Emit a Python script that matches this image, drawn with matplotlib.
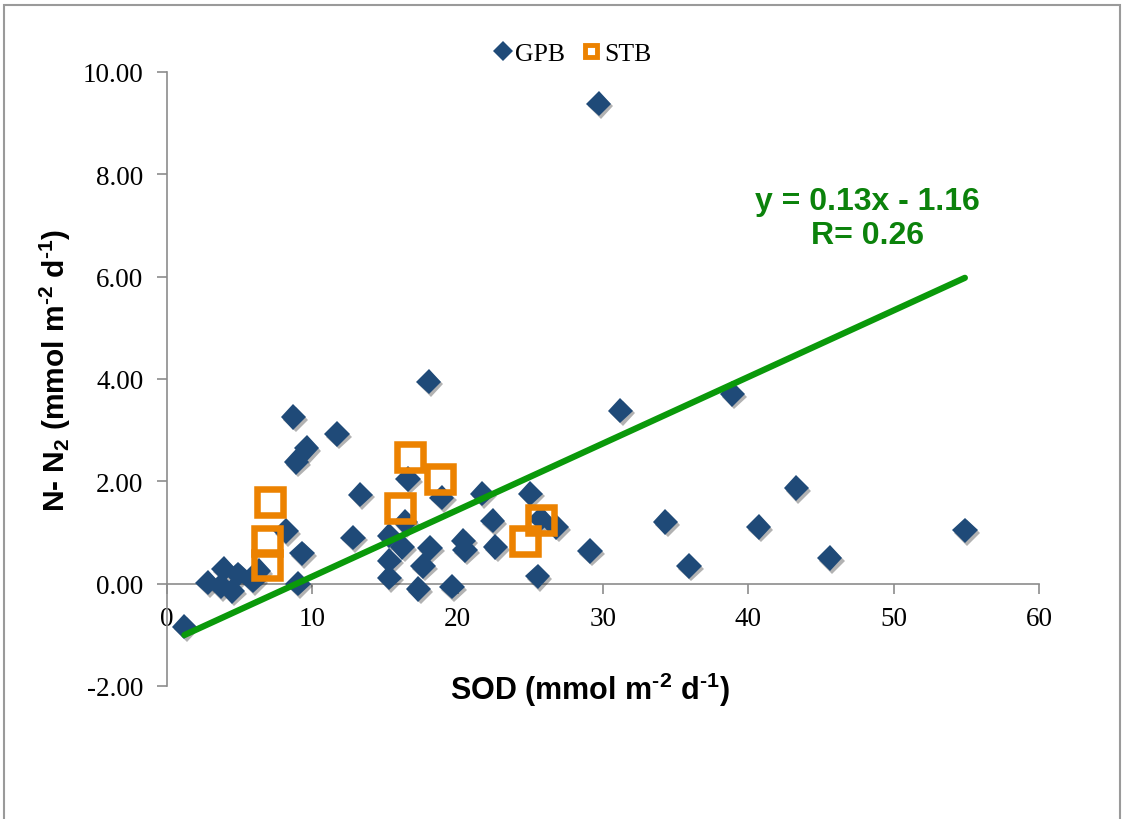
import matplotlib
matplotlib.use("Agg")
import matplotlib.pyplot as plt
import matplotlib.patheffects as pe
from matplotlib.lines import Line2D
from matplotlib.patches import Rectangle
import numpy as np

# GPB (diamonds)
gpb_x = [1.2, 2.8, 3.9, 3.7, 4.5, 4.9, 5.9, 6.3, 8.2, 8.7, 8.9, 9.6, 9.3, 9.0,
         11.7, 12.8, 13.3, 15.3, 15.3, 15.3, 16.4, 16.6, 16.2, 17.6, 18.1, 17.3,
         18.0, 18.9, 19.6, 20.4, 20.5, 21.7, 22.4, 22.6, 25.0, 25.7, 26.8, 25.5,
         29.1, 29.7, 31.2, 34.3, 35.9, 38.9, 40.7, 43.3, 45.6, 54.9]
gpb_y = [-0.84, 0.02, 0.29, -0.05, -0.14, 0.18, 0.06, 0.25, 1.03, 3.26, 2.38, 2.65, 0.59, 0.0,
         2.93, 0.90, 1.74, 0.94, 0.45, 0.12, 1.20, 2.05, 0.72, 0.35, 0.70, -0.10,
         3.95, 1.68, -0.06, 0.84, 0.66, 1.76, 1.23, 0.72, 1.76, 1.27, 1.11, 0.14,
         0.64, 9.38, 3.38, 1.21, 0.35, 3.71, 1.11, 1.87, 0.50, 1.04]

# STB (open squares)
stb_x = [7.1, 6.9, 6.9, 16.7, 18.8, 16.0, 24.6, 25.7]
stb_y = [1.60, 0.84, 0.36, 2.48, 2.05, 1.48, 0.84, 1.24]

slope, intercept = 0.13, -1.16

blue = "#1F4A78"
orange = "#EC8200"
green = "#0A990A"
axis_gray = "#8C8C8C"

plt.rcParams["mathtext.fontset"] = "custom"
plt.rcParams["mathtext.rm"] = "Liberation Sans:bold"
plt.rcParams["mathtext.bf"] = "Liberation Sans:bold"
plt.rcParams["mathtext.it"] = "Liberation Sans:bold"

fig = plt.figure(figsize=(11.23, 8.2), dpi=100)
ax = fig.add_axes([0.1487, 0.1622, 0.7765, 0.7488])

shadow = [pe.SimplePatchShadow(offset=(1.5, -2), shadow_rgbFace="k", alpha=0.3), pe.Normal()]
ax.plot(gpb_x, gpb_y, linestyle="none", marker="D", ms=13, color=blue,
        markeredgewidth=0, path_effects=shadow, zorder=3)

tx = np.array([min(gpb_x), max(gpb_x)])
ax.plot(tx, slope * tx + intercept, color=green, lw=4.5, solid_capstyle="round", zorder=4)

ax.plot(stb_x, stb_y, linestyle="none", marker="s", ms=19, markerfacecolor="none",
        markeredgecolor=orange, markeredgewidth=4.7, zorder=5)

ax.set_xlim(0, 60)
ax.set_ylim(-2, 10)
ax.set_xticks(np.arange(0, 61, 10))
ax.set_yticks(np.arange(-2, 10.1, 2))
ax.set_yticklabels(["%.2f" % v for v in np.arange(-2, 10.1, 2)])

ax.spines["top"].set_visible(False)
ax.spines["right"].set_visible(False)
ax.spines["bottom"].set_position(("data", 0))
for s in ["left", "bottom"]:
    ax.spines[s].set_color(axis_gray)
    ax.spines[s].set_linewidth(1.2)
ax.tick_params(axis="both", color=axis_gray, width=1.2, length=7, direction="out",
               labelsize=19.5)
ax.tick_params(axis="y", pad=10)
ax.tick_params(axis="x", pad=9)
for lab in ax.get_xticklabels() + ax.get_yticklabels():
    lab.set_fontfamily("Liberation Serif")

hy = "\u2010"
ax.set_xlabel("SOD (mmol m$^{%s2}$ d$^{%s1}$)" % (hy, hy), fontsize=22, fontweight="bold",
              fontfamily="Liberation Sans", va="center")
ax.xaxis.set_label_coords(0.485, -0.005)
ax.set_ylabel("N- N$_{2}$ (mmol m$^{%s2}$ d$^{%s1}$)" % (hy, hy), fontsize=21.5,
              fontweight="bold", fontfamily="Liberation Sans")
ax.yaxis.set_label_coords(-0.108, 0.515)

ax.text(0.803, 0.762, "y = 0.13x - 1.16\nR= 0.26", transform=ax.transAxes,
        ha="center", va="center", fontsize=23, fontweight="bold", color="#0B820B",
        fontfamily="Liberation Sans", linespacing=1.15)

handles = [
    Line2D([], [], linestyle="none", marker="D", ms=10, color=blue, markeredgewidth=0),
    Line2D([], [], linestyle="none", marker="s", ms=9, markerfacecolor="white",
           markeredgecolor=orange, markeredgewidth=3.5),
]
fig.legend(handles, ["GPB", "STB"], loc="center", bbox_to_anchor=(0.508, 0.933),
           ncol=2, frameon=False, handletextpad=0.0, columnspacing=0.5,
           handlelength=1.0, prop={"family": "Liberation Serif", "size": 18.5})

fig.patches.append(Rectangle((4 / 1123, -0.01), 1116 / 1123, (820 - 4) / 820 + 0.01 - 0.002,
                             transform=fig.transFigure, fill=False,
                             edgecolor="#9A9A9A", linewidth=1.5))

fig.savefig("out.png", dpi=100)
